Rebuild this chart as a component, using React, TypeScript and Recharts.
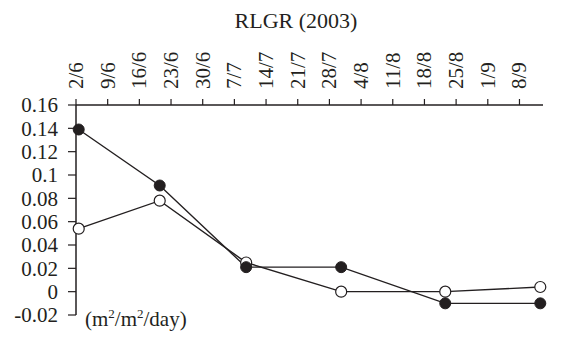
import React from "react";
import { LineChart, Line, XAxis, YAxis } from "recharts";

const sampleDays = [0.6, 18.5, 37.6, 58.6, 81.6, 102.6];
const filledSeries = [0.139, 0.091, 0.021, 0.021, -0.01, -0.01];
const openSeries = [0.054, 0.078, 0.025, 0.0, 0.0, 0.004];

const xTickDays = [0, 7, 14, 21, 28, 35, 42, 49, 56, 63, 70, 77, 84, 91, 98];
const xTickLabels = ["2/6", "9/6", "16/6", "23/6", "30/6", "7/7", "14/7", "21/7", "28/7", "4/8", "11/8", "18/8", "25/8", "1/9", "8/9"];
const yTicks = [-0.02, 0, 0.02, 0.04, 0.06, 0.08, 0.1, 0.12, 0.14, 0.16];
const yTickLabels = ["-0.02", "0", "0.02", "0.04", "0.06", "0.08", "0.1", "0.12", "0.14", "0.16"];

const data = sampleDays.map((d, i) => ({ day: d, filled: filledSeries[i], open: openSeries[i] }));

const FONT = "'Liberation Serif', 'Times New Roman', serif";

const XTick = (props: any) => {
  const { x, y, payload } = props;
  const idx = xTickDays.indexOf(payload.value);
  return (
    <text
      x={x}
      y={y}
      transform={`rotate(-90 ${x} ${y})`}
      textAnchor="start"
      dominantBaseline="central"
      fontFamily={FONT}
      fontSize={21}
      fill="#231f20"
    >
      {idx >= 0 ? xTickLabels[idx] : ""}
    </text>
  );
};

export default function App() {
  return (
    <div style={{ position: "absolute", left: 0, top: 0, width: 562, height: 338, background: "#fff", fontFamily: FONT }}>
      <div
        style={{
          position: "absolute",
          left: 0,
          width: 592,
          top: 8,
          textAlign: "center",
          fontSize: 22,
          lineHeight: "26px",
          color: "#231f20",
        }}
      >
        RLGR (2003)
      </div>
      <LineChart
        width={562}
        height={338}
        data={data}
        margin={{ top: 5, right: 19, bottom: 23, left: 0 }}
        style={{ position: "absolute", left: 0, top: 0 }}
      >
        <XAxis
          dataKey="day"
          type="number"
          orientation="top"
          domain={[0, 103.2]}
          ticks={xTickDays}
          interval={0}
          height={100}
          tickSize={6}
          tickMargin={10}
          tick={<XTick />}
          axisLine={{ stroke: "#231f20", strokeWidth: 1.5 }}
          tickLine={{ stroke: "#231f20", strokeWidth: 1.2 }}
        />
        <YAxis
          type="number"
          domain={[-0.02, 0.16]}
          ticks={yTicks}
          interval={0}
          width={76}
          tickSize={8}
          tickMargin={10}
          tickFormatter={(v: number) => {
            const i = yTicks.findIndex((t) => Math.abs(t - v) < 1e-9);
            return i >= 0 ? yTickLabels[i] : String(v);
          }}
          tick={{ fontFamily: FONT, fontSize: 21, fill: "#231f20" }}
          axisLine={{ stroke: "#231f20", strokeWidth: 1.5 }}
          tickLine={{ stroke: "#231f20", strokeWidth: 1.2 }}
        />
        <Line
          type="linear"
          dataKey="open"
          stroke="#231f20"
          strokeWidth={1.4}
          dot={{ r: 5.5, fill: "#fff", stroke: "#231f20", strokeWidth: 1.2 }}
          isAnimationActive={false}
        />
        <Line
          type="linear"
          dataKey="filled"
          stroke="#231f20"
          strokeWidth={1.4}
          dot={{ r: 5.5, fill: "#231f20", stroke: "#231f20", strokeWidth: 1 }}
          isAnimationActive={false}
        />
      </LineChart>
      <div
        style={{
          position: "absolute",
          left: 85,
          top: 306,
          fontSize: 21,
          lineHeight: "26px",
          color: "#231f20",
          whiteSpace: "nowrap",
        }}
      >
        (m<sup style={{ fontSize: 13, verticalAlign: "8px", lineHeight: 0 }}>2</sup>/m
        <sup style={{ fontSize: 13, verticalAlign: "8px", lineHeight: 0 }}>2</sup>/day)
      </div>
    </div>
  );
}
